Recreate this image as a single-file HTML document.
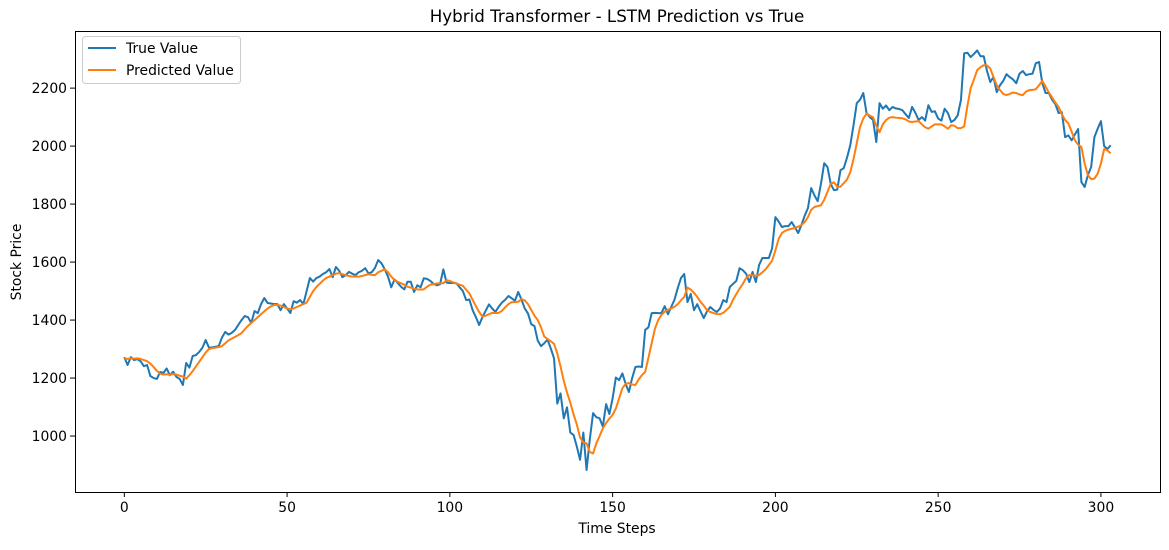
<!DOCTYPE html>
<html><head><meta charset="utf-8">
<style>
html,body{margin:0;padding:0;background:#fff;}
svg text{font-family:"DejaVu Sans","Liberation Sans",sans-serif;fill:#000;}
</style></head>
<body>
<svg id="chart" width="1169" height="545" xmlns="http://www.w3.org/2000/svg">
<rect x="0" y="0" width="1169" height="545" fill="#fff"/>
<text x="617" y="22" font-size="16.7" text-anchor="middle">Hybrid Transformer - LSTM Prediction vs True</text>
<g id="grid"></g>
<g id="series"></g>
<rect x="75.5" y="31.5" width="1085" height="461" fill="none" stroke="#000" stroke-width="1"/>
<g id="xticks"></g>
<g id="yticks"></g>
<text x="617" y="533" font-size="13.9" text-anchor="middle">Time Steps</text>
<text transform="translate(21,262) rotate(-90)" font-size="13.9" text-anchor="middle">Stock Price</text>
<g>
<rect x="82.5" y="36.5" width="158" height="47" rx="3" fill="#fff" stroke="#ccc"/>
<line x1="88" y1="48" x2="116" y2="48" stroke="#1f77b4" stroke-width="2"/>
<text x="126" y="53" font-size="13.9">True Value</text>
<line x1="88" y1="70" x2="116" y2="70" stroke="#ff7f0e" stroke-width="2"/>
<text x="126" y="75" font-size="13.9">Predicted Value</text>
</g>
</svg>
<script>
const xTicks = [0,50,100,150,200,250,300];
const yTicks = [1000,1200,1400,1600,1800,2000,2200];
const trueValues = [1272,1245,1272,1262,1265,1258,1241,1245,1207,1200,1197,1221,1218,1233,1210,1222,1204,1197,1176,1252,1236,1276,1279,1290,1305,1331,1305,1306,1308,1310,1340,1359,1350,1356,1366,1383,1400,1414,1410,1390,1431,1424,1455,1476,1459,1457,1455,1455,1434,1455,1440,1424,1465,1460,1469,1455,1500,1545,1533,1545,1550,1559,1565,1576,1548,1583,1570,1548,1555,1566,1560,1555,1565,1570,1579,1561,1565,1580,1607,1596,1575,1550,1513,1540,1528,1515,1506,1532,1532,1497,1520,1513,1544,1542,1535,1525,1520,1524,1575,1529,1528,1528,1527,1513,1500,1469,1471,1434,1410,1383,1410,1432,1454,1440,1428,1446,1460,1470,1483,1475,1467,1497,1471,1440,1423,1386,1379,1329,1310,1320,1333,1302,1268,1112,1147,1061,1099,1012,1004,964,918,1012,883,990,1079,1065,1061,1033,1110,1076,1130,1202,1193,1216,1180,1152,1200,1238,1240,1238,1366,1375,1424,1425,1424,1424,1448,1420,1445,1470,1510,1545,1559,1462,1490,1434,1455,1430,1407,1430,1445,1435,1428,1440,1469,1462,1514,1525,1535,1579,1572,1560,1531,1566,1531,1590,1614,1614,1614,1648,1755,1740,1721,1724,1724,1738,1720,1700,1728,1760,1786,1855,1830,1810,1870,1941,1928,1870,1848,1850,1917,1924,1960,2003,2072,2148,2160,2183,2114,2100,2090,2014,2148,2129,2140,2124,2135,2130,2128,2124,2110,2097,2135,2115,2090,2100,2088,2141,2118,2120,2095,2088,2129,2114,2083,2090,2106,2159,2320,2322,2307,2318,2330,2310,2310,2260,2221,2238,2186,2210,2225,2248,2238,2230,2217,2250,2259,2245,2248,2250,2286,2290,2217,2183,2183,2160,2145,2114,2117,2031,2037,2020,2040,2059,1876,1859,1900,1928,2031,2060,2086,2000,1990,2003];
const predictedValues = [1268,1266,1268,1267,1268,1266,1262,1258,1250,1238,1225,1215,1212,1213,1212,1214,1212,1208,1205,1198,1210,1224,1240,1256,1272,1288,1300,1303,1305,1307,1310,1320,1330,1336,1342,1348,1355,1368,1380,1390,1400,1410,1420,1430,1440,1447,1452,1452,1450,1445,1440,1438,1440,1445,1450,1455,1460,1480,1500,1514,1525,1536,1545,1550,1555,1560,1562,1558,1555,1552,1550,1550,1550,1552,1555,1558,1556,1555,1565,1570,1575,1565,1550,1538,1532,1527,1522,1515,1512,1508,1506,1505,1506,1515,1522,1524,1526,1527,1527,1538,1535,1530,1526,1522,1518,1505,1492,1470,1448,1428,1412,1415,1420,1425,1424,1425,1432,1444,1455,1462,1462,1463,1472,1468,1455,1435,1415,1400,1375,1343,1335,1327,1318,1285,1240,1190,1150,1115,1075,1040,995,978,975,945,940,975,1000,1027,1045,1060,1073,1095,1130,1165,1180,1183,1178,1176,1195,1210,1221,1270,1320,1370,1400,1418,1429,1436,1440,1446,1455,1468,1480,1512,1505,1494,1480,1463,1450,1434,1428,1424,1421,1420,1425,1435,1446,1470,1490,1508,1525,1545,1555,1555,1553,1555,1565,1575,1590,1605,1640,1680,1700,1708,1712,1715,1718,1722,1728,1738,1755,1780,1790,1793,1796,1815,1842,1870,1875,1860,1860,1872,1885,1910,1955,2010,2066,2095,2112,2105,2100,2070,2048,2075,2090,2098,2100,2098,2097,2096,2092,2085,2083,2085,2086,2075,2065,2060,2068,2075,2075,2075,2068,2060,2072,2070,2062,2062,2068,2140,2200,2230,2262,2272,2279,2278,2268,2238,2210,2193,2180,2176,2180,2185,2183,2178,2176,2188,2193,2194,2196,2210,2225,2205,2185,2168,2150,2135,2110,2090,2078,2050,2020,2005,1997,1940,1900,1886,1888,1905,1940,1990,1985,1975];

const NS='http://www.w3.org/2000/svg';
const plotL=75, plotR=1160, plotT=31, plotB=492;
const xMin=-15.15, xMax=318.15, yMin=807, yMax=2397;
function xScale(i){return plotL+(i-xMin)/(xMax-xMin)*(plotR-plotL);}
function yScale(v){return plotB-(v-yMin)/(yMax-yMin)*(plotB-plotT);}

const xg=document.getElementById('xticks');
xTicks.forEach(t=>{
  const x=xScale(t);
  const l=document.createElementNS(NS,'line');
  l.setAttribute('x1',x);l.setAttribute('x2',x);l.setAttribute('y1',plotB);l.setAttribute('y2',plotB+5);
  l.setAttribute('stroke','#000');
  
  
  xg.appendChild(l);
  const tx=document.createElementNS(NS,'text');
  tx.setAttribute('x',x);tx.setAttribute('y',plotB+20);tx.setAttribute('font-size','13.9');tx.setAttribute('text-anchor','middle');
  tx.textContent=t;
  
  
  xg.appendChild(tx);
});
const yg=document.getElementById('yticks');
yTicks.forEach(t=>{
  const y=yScale(t);
  const l=document.createElementNS(NS,'line');
  l.setAttribute('x1',plotL-5);l.setAttribute('x2',plotL);l.setAttribute('y1',y);l.setAttribute('y2',y);
  l.setAttribute('stroke','#000');
  
  
  yg.appendChild(l);
  const tx=document.createElementNS(NS,'text');
  tx.setAttribute('x',plotL-8);tx.setAttribute('y',y+5);tx.setAttribute('font-size','13.9');tx.setAttribute('text-anchor','end');
  tx.textContent=t;
  
  
  yg.appendChild(tx);
});
const sg=document.getElementById('series');
function drawLine(vals,color,name){
  const p=document.createElementNS(NS,'polyline');
  p.setAttribute('points',vals.map((v,i)=>xScale(i).toFixed(2)+','+yScale(v).toFixed(2)).join(' '));
  p.setAttribute('fill','none');p.setAttribute('stroke',color);p.setAttribute('stroke-width','2');p.setAttribute('stroke-linejoin','round');
  
  
  sg.appendChild(p);
}
drawLine(trueValues,'#1f77b4','true-value-line');
drawLine(predictedValues,'#ff7f0e','predicted-value-line');
</script>
</body></html>
